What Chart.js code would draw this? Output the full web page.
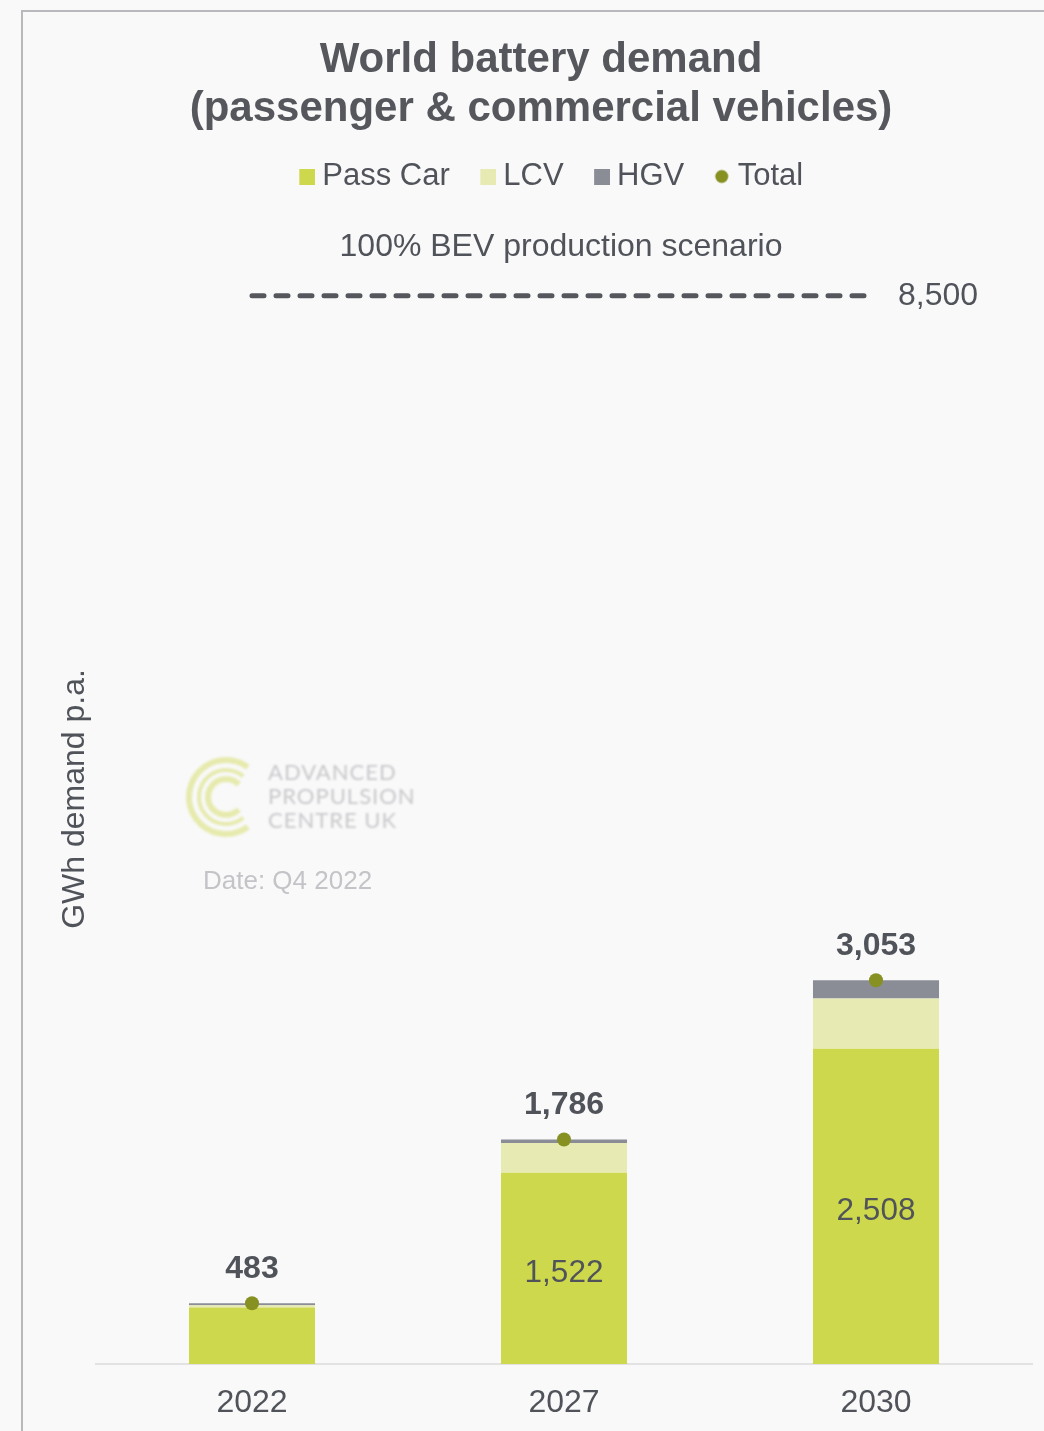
<!DOCTYPE html>
<html>
<head>
<meta charset="utf-8">
<title>World battery demand</title>
<script src="https://cdn.jsdelivr.net/npm/chart.js@4.4.0/dist/chart.umd.min.js"></script>
<style>
  html, body { margin: 0; padding: 0; background: #f9f9f9; overflow: hidden; }
  #wrap { position: relative; width: 1044px; height: 1431px; }
  #frame {
    position: absolute; left: 21px; top: 10px; right: -10px; bottom: -10px;
    border-left: 2px solid #b8b8bd; border-top: 2px solid #b8b8bd;
    pointer-events: none;
  }
</style>
</head>
<body>
<div id="wrap">
  <canvas id="chart"></canvas>
  <div id="frame"></div>
</div>
<script>
const years = ["2022", "2027", "2030"];
const passCar = [450, 1522, 2508];
const lcv = [17, 236, 399];
const hgv = [16, 28, 146];
const totals = [483, 1786, 3053];
const bevScenario = [8500, 8500, 8500];

const FONT = "'Liberation Sans', Arial, sans-serif";
const textColor = "#505359";
const passColor = "#cdd84c";
const lcvColor = "#e7ebb3";
const hgvColor = "#8a8d96";
const totalColor = "#879122";

Chart.defaults.font.family = FONT;
Chart.defaults.color = textColor;

const fmt = v => String(v).replace(/\B(?=(\d{3})+(?!\d))/g, ",");

// legend markers: blank space on the left keeps the gap between items,
// the swatch sits right before the text
const makeMarker = (color, round) => {
  const c = document.createElement("canvas");
  c.width = 45;
  c.height = 16;
  const g = c.getContext("2d");
  g.fillStyle = color;
  if (round) {
    g.beginPath();
    g.arc(36, 8, 6.5, 0, Math.PI * 2);
    g.fill();
  } else {
    g.fillRect(29, 0, 16, 16);
  }
  return c;
};

const legendItems = [
  { text: "Pass Car", marker: makeMarker(passColor, false), datasetIndex: 0 },
  { text: "LCV", marker: makeMarker(lcvColor, false), datasetIndex: 1 },
  { text: "HGV", marker: makeMarker(hgvColor, false), datasetIndex: 2 },
  { text: "Total", marker: makeMarker(totalColor, true), datasetIndex: 3 }
];

// faint logo + date stamp behind the bars
const watermark = {
  id: "watermark",
  beforeDatasetsDraw(chart) {
    const ctx = chart.ctx;
    ctx.save();
    ctx.filter = "blur(0.8px)";
    ctx.strokeStyle = "#e6eaad";
    ctx.lineCap = "butt";
    const cx = 226, cy = 797;
    [[37, 6, 0.30, 1.70], [27, 4, 0.28, 1.72], [18, 6, 0.25, 1.75]].forEach(([r, w, a0, a1]) => {
      ctx.lineWidth = w;
      ctx.beginPath();
      ctx.arc(cx, cy, r, a0 * Math.PI, a1 * Math.PI);
      ctx.stroke();
    });
    ctx.fillStyle = "#c8c8cc";
    ctx.font = "22px Lato, 'Open Sans', sans-serif";
    ctx.letterSpacing = "1px";
    ctx.textAlign = "left";
    ctx.textBaseline = "middle";
    ctx.fillText("ADVANCED", 268, 773);
    ctx.fillText("PROPULSION", 268, 797);
    ctx.fillText("CENTRE UK", 268, 821);
    ctx.letterSpacing = "0px";
    ctx.filter = "none";
    ctx.fillStyle = "#c4c4c8";
    ctx.font = "26px " + FONT;
    ctx.fillText("Date: Q4 2022", 203, 882);
    ctx.restore();
  }
};

const valueLabels = {
  id: "valueLabels",
  afterDatasetsDraw(chart) {
    const ctx = chart.ctx;
    ctx.save();
    ctx.fillStyle = textColor;
    ctx.textAlign = "center";
    ctx.textBaseline = "middle";

    // totals above the dots
    ctx.font = "bold 32px " + FONT;
    chart.getDatasetMeta(3).data.forEach((pt, i) => {
      ctx.fillText(fmt(totals[i]), pt.x, pt.y - 34);
    });

    // pass car value inside the bar when there is room
    ctx.font = "31.5px " + FONT;
    chart.getDatasetMeta(0).data.forEach((bar, i) => {
      if (bar.base - bar.y > 60) {
        ctx.fillText(fmt(passCar[i]), bar.x, (bar.y + bar.base) / 2 + 5);
      }
    });

    // scenario line caption and value
    const bev = chart.getDatasetMeta(4).data;
    const first = bev[0], last = bev[bev.length - 1];
    ctx.font = "32px " + FONT;
    ctx.fillText("100% BEV production scenario", (first.x + last.x) / 2 - 3, first.y - 48);
    ctx.textAlign = "left";
    ctx.fillText(fmt(bevScenario[bevScenario.length - 1]), last.x + 22, last.y + 1);

    // y axis title
    ctx.translate(75, 799);
    ctx.rotate(-Math.PI / 2);
    ctx.textAlign = "center";
    ctx.fillText("GWh demand p.a.", 0, 0);
    ctx.restore();
  }
};

new Chart(document.getElementById("chart"), {
  data: {
    labels: years,
    datasets: [
      { type: "bar", label: "Pass Car", data: passCar, backgroundColor: passColor, stack: "demand", order: 3 },
      { type: "bar", label: "LCV", data: lcv, backgroundColor: lcvColor, stack: "demand", order: 3 },
      { type: "bar", label: "HGV", data: hgv, backgroundColor: hgvColor, stack: "demand", order: 3 },
      {
        type: "line", label: "Total", data: totals, showLine: false, stack: "total", order: 1,
        pointRadius: 7, pointBackgroundColor: totalColor, pointBorderWidth: 0
      },
      {
        type: "line", label: "100% BEV production scenario", data: bevScenario, stack: "bev", order: 2,
        borderColor: "#55575d", borderWidth: 5, borderDash: [12, 12], borderCapStyle: "round",
        pointRadius: 0, fill: false
      }
    ]
  },
  options: {
    responsive: true,
    maintainAspectRatio: false,
    animation: false,
    layout: { padding: { left: 50, right: 12, top: 0, bottom: 10 } },
    datasets: {
      bar: { barPercentage: 0.404, categoryPercentage: 1.0 }
    },
    plugins: {
      title: {
        display: true,
        text: ["World battery demand", "(passenger & commercial vehicles)"],
        color: "#55575c",
        font: { size: 42, weight: "bold", lineHeight: "49px" },
        padding: { top: 36, bottom: 17 }
      },
      legend: {
        labels: {
          usePointStyle: true,
          boxWidth: 28,
          boxHeight: 14,
          padding: 10,
          color: textColor,
          font: { size: 31 },
          generateLabels: () => legendItems.map(it => ({
            text: it.text,
            pointStyle: it.marker,
            fillStyle: "transparent",
            strokeStyle: "transparent",
            lineWidth: 0,
            fontColor: textColor,
            hidden: false,
            datasetIndex: it.datasetIndex
          }))
        }
      },
      tooltip: { enabled: false }
    },
    scales: {
      x: {
        stacked: true,
        grid: { display: false, drawTicks: false },
        border: { display: true, color: "#e2e2e2", width: 2 },
        ticks: { color: textColor, font: { size: 32 }, padding: 20 },
        afterFit: scale => { scale.height = 57; }
      },
      y: {
        stacked: true,
        min: 0,
        max: 9245,
        grid: { display: false, drawTicks: false },
        border: { display: false },
        ticks: { display: false },
        afterFit: scale => { scale.width = 46; }
      }
    }
  },
  plugins: [watermark, valueLabels]
});
</script>
</body>
</html>
